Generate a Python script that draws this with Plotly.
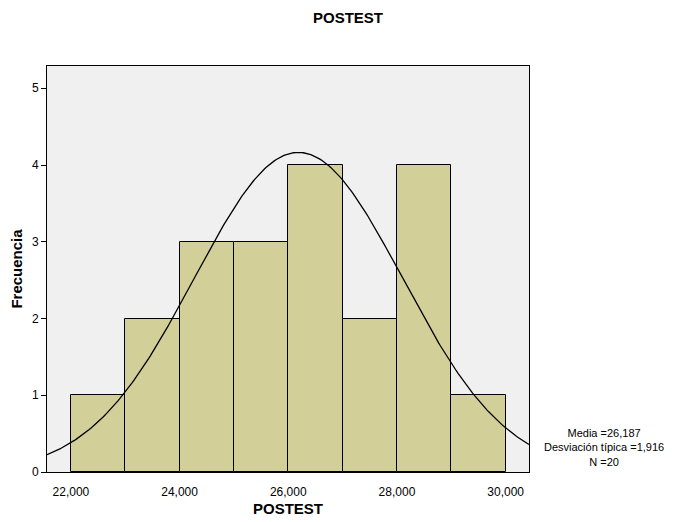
import numpy as np
import plotly.graph_objects as go

bin_starts = [22, 23, 24, 25, 26, 27, 28, 29]
counts = [1, 2, 3, 3, 4, 2, 4, 1]
bin_width = 1.0
media = 26.187
desv = 1.916
n_total = 20
x_ticks = [22, 24, 26, 28, 30]
x_tick_labels = ["22,000", "24,000", "26,000", "28,000", "30,000"]
y_ticks = [0, 1, 2, 3, 4, 5]

xr = [21.56, 30.43]
yr = [0, 5.29]

# page body has an 8px default margin; compensate
W, H = 680, 514
L, T = 39, 58
R = W - (529 - 8)
B = H - (472 - 8)
pw = W - L - R
ph = H - T - B

fig = go.Figure()
fig.add_trace(go.Bar(
    x=[s + bin_width / 2 for s in bin_starts], y=counts, width=bin_width,
    marker=dict(color="#D3CF98", line=dict(color="black", width=1)),
    hoverinfo="skip"))

xc = np.linspace(xr[0], xr[1], 300)
yc = n_total * bin_width / (desv * np.sqrt(2 * np.pi)) * np.exp(-0.5 * ((xc - media) / desv) ** 2)
fig.add_trace(go.Scatter(x=xc, y=yc, mode="lines", line=dict(color="black", width=1.3),
                         hoverinfo="skip"))

fig.update_layout(
    width=W, height=H,
    margin=dict(l=L, r=R, t=T, b=B, autoexpand=False),
    paper_bgcolor="white", plot_bgcolor="#F0F0F0",
    showlegend=False, bargap=0,
    font=dict(family="Liberation Sans, Arial, sans-serif", color="black"),
    title=dict(text="<b>POSTEST</b>", x=0.5, xanchor="center", xref="container",
               y=1 - 10 / H, yanchor="middle", font=dict(size=15)),
)
fig.update_xaxes(range=xr, tickvals=x_ticks, ticktext=x_tick_labels,
                 showgrid=False, zeroline=False, showline=True, mirror=True,
                 linecolor="black", linewidth=1, ticks="outside", ticklen=9,
                 tickcolor="rgba(0,0,0,0)", tickfont=dict(size=12),
                 title=dict(text="<b>POSTEST</b>", font=dict(size=15), standoff=5))
fig.update_yaxes(range=yr, tickvals=y_ticks, showgrid=False, zeroline=False,
                 showline=True, mirror=True, linecolor="black", linewidth=1,
                 ticks="outside", ticklen=5, tickcolor="black", tickfont=dict(size=12),
                 title=dict(text="<b>Frecuencia</b>", font=dict(size=15), standoff=8))

fig.add_annotation(
    text="Media =26,187<br>Desviación típica =1,916<br>N =20",
    xref="paper", yref="paper", x=1 + (604 - 529) / pw, y=(472 - 447) / ph,
    xanchor="center", yanchor="middle", showarrow=False, align="center",
    font=dict(size=11))

fig.write_html("out.html")
